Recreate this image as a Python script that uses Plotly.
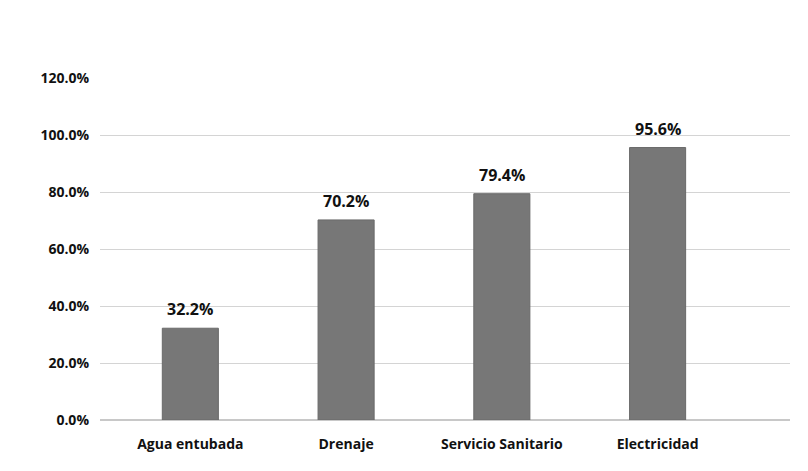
import plotly.graph_objects as go

servicios = ["Agua entubada", "Drenaje", "Servicio Sanitario", "Electricidad"]
porcentajes = [32.2, 70.2, 79.4, 95.6]
etiquetas = ["32.2%", "70.2%", "79.4%", "95.6%"]
ticks = [0, 20, 40, 60, 80, 100, 120]
tick_text = ["0.0%", "20.0%", "40.0%", "60.0%", "80.0%", "100.0%", "120.0%"]

pos = list(range(len(servicios)))

fig = go.Figure(go.Bar(
    x=pos, y=porcentajes,
    marker=dict(color="#777777", line=dict(color="#6a6a6a", width=1)),
    width=0.36,
))

# etiquetas de valor encima de cada barra
for p, v, t in zip(pos, porcentajes, etiquetas):
    fig.add_annotation(x=p, y=v, text=t, showarrow=False, yanchor="bottom",
                       yshift=6, font=dict(family="Open Sans", size=16, color="#111111",
                                           weight="bold"))

fig.update_layout(
    width=808, height=471,
    margin=dict(l=92, r=26, t=70, b=59),
    paper_bgcolor="white", plot_bgcolor="white",
    font=dict(family="Open Sans", size=12, color="#222222"),
    showlegend=False,
    xaxis=dict(
        tickmode="array", tickvals=pos, ticktext=servicios,
        range=[-0.58, 3.85], showgrid=False, zeroline=False,
        tickfont=dict(family="Open Sans", size=14, color="#111111", weight="bold"),
        showline=False, ticks="", ticklabelstandoff=14,
    ),
    yaxis=dict(
        range=[0, 120], tickvals=ticks, ticktext=tick_text,
        gridcolor="#d4d4d4", zeroline=True, zerolinecolor="#c8c8c8",
        tickfont=dict(family="Open Sans", size=14, color="#111111", weight="bold"),
        ticks="", ticklabelstandoff=10,
    ),
)

fig.write_html("out.html")
